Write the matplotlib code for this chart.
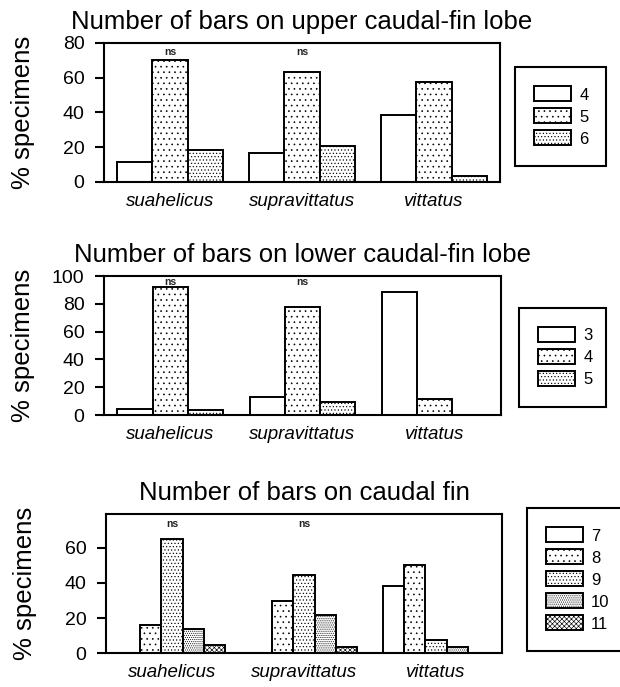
import matplotlib
matplotlib.use('Agg')
import matplotlib.pyplot as plt
import numpy as np

W, H = 620, 687
plt.rcParams['font.family'] = ['Liberation Sans', 'DejaVu Sans']
plt.rcParams['hatch.linewidth'] = 0.45

species = ['suahelicus', 'supravittatus', 'vittatus']

# Panel 1: upper caudal-fin lobe (series = number of bars)
upper_labels = ['4', '5', '6']
upper_4 = [11.5, 16.7, 38.5]
upper_5 = [70.0, 63.3, 57.7]
upper_6 = [18.4, 20.5, 3.7]

# Panel 2: lower caudal-fin lobe
lower_labels = ['3', '4', '5']
lower_3 = [4.3, 12.7, 88.7]
lower_4 = [91.8, 77.9, 11.5]
lower_5 = [3.6, 9.1, 0.0]

# Panel 3: whole caudal fin
fin_labels = ['7', '8', '9', '10', '11']
fin_7 = [0.0, 0.0, 38.3]
fin_8 = [16.3, 29.4, 49.8]
fin_9 = [64.9, 44.3, 7.5]
fin_10 = [13.9, 22.0, 3.7]
fin_11 = [4.8, 3.6, 0.0]

ns_groups = [0, 1]  # groups marked "ns"

titles = ['Number of bars on upper caudal-fin lobe',
          'Number of bars on lower caudal-fin lobe',
          'Number of bars on caudal fin']

hatch3 = ['', '...', '.....']
hatch5 = ['', '...', '.....', '........', 'xxxxxxx']

panels = [
    dict(title=titles[0], labels=upper_labels, series=[upper_4, upper_5, upper_6],
         hatches=hatch3, ylim=80, yticks=[0, 20, 40, 60, 80], ns_y=74.5,
         rect=(104, 42.7, 500, 182), leg=(515.3, 67.3, 90.4)),
    dict(title=titles[1], labels=lower_labels, series=[lower_3, lower_4, lower_5],
         hatches=hatch3, ylim=100, yticks=[0, 20, 40, 60, 80, 100], ns_y=96,
         rect=(104, 276, 501, 415), leg=(519, 308, 86.5)),
    dict(title=titles[2], labels=fin_labels, series=[fin_7, fin_8, fin_9, fin_10, fin_11],
         hatches=hatch5, ylim=79, yticks=[0, 20, 40, 60], ns_y=73.5,
         rect=(106, 514, 502, 653.3), leg=(526.7, 508.3, 110)),
]

fig = plt.figure(figsize=(W / 100, H / 100), dpi=100)
fig.patch.set_facecolor('white')

x = np.arange(len(species))
for p in panels:
    l, t, r, b = p['rect']
    ax = fig.add_axes([l / W, 1 - b / H, (r - l) / W, (b - t) / H])
    n = len(p['series'])
    w = 0.8 / n
    handles = []
    for i, (vals, lab, hat) in enumerate(zip(p['series'], p['labels'], p['hatches'])):
        bars = ax.bar(x + (i - (n - 1) / 2) * w, vals, w, facecolor='white',
                      edgecolor='black', linewidth=1.4, hatch=hat, label=lab, zorder=2)
        handles.append(bars)
    ax.set_xlim(-0.5, 2.5)
    ax.set_ylim(0, p['ylim'])
    ax.set_yticks(p['yticks'])
    ax.set_xticks(x)
    ax.set_xticklabels(species, style='italic', fontsize=13.5)
    ax.tick_params(axis='x', length=0, pad=8)
    ax.tick_params(axis='y', direction='out', length=6.5, width=1.5, pad=7.5, labelsize=14)
    for s in ax.spines.values():
        s.set_linewidth(1.5)
    ax.set_title(p['title'], fontsize=18.5, pad=10)
    ax.set_ylabel('% specimens', fontsize=18.5)
    ax.yaxis.set_label_coords(-0.175, 0.5)
    for g in ns_groups:
        ax.text(x[g], p['ns_y'], 'ns', ha='center', va='center', fontsize=7.5,
                fontweight='bold', color='#222222')
    lx, ly, lw = p['leg']
    leg = ax.legend(handles=handles, labels=p['labels'], loc='upper left',
                    bbox_to_anchor=(lx / W, 1 - ly / H, lw / W, 0),
                    bbox_transform=fig.transFigure, mode='expand', borderaxespad=0,
                    fontsize=12, handlelength=2.2, handleheight=1.0,
                    handletextpad=0.5, labelspacing=0.35, borderpad=1.15,
                    fancybox=False, frameon=True, edgecolor='black', framealpha=1)
    leg.get_frame().set_linewidth(1.5)

fig.savefig('out.png', dpi=100, facecolor='white')
